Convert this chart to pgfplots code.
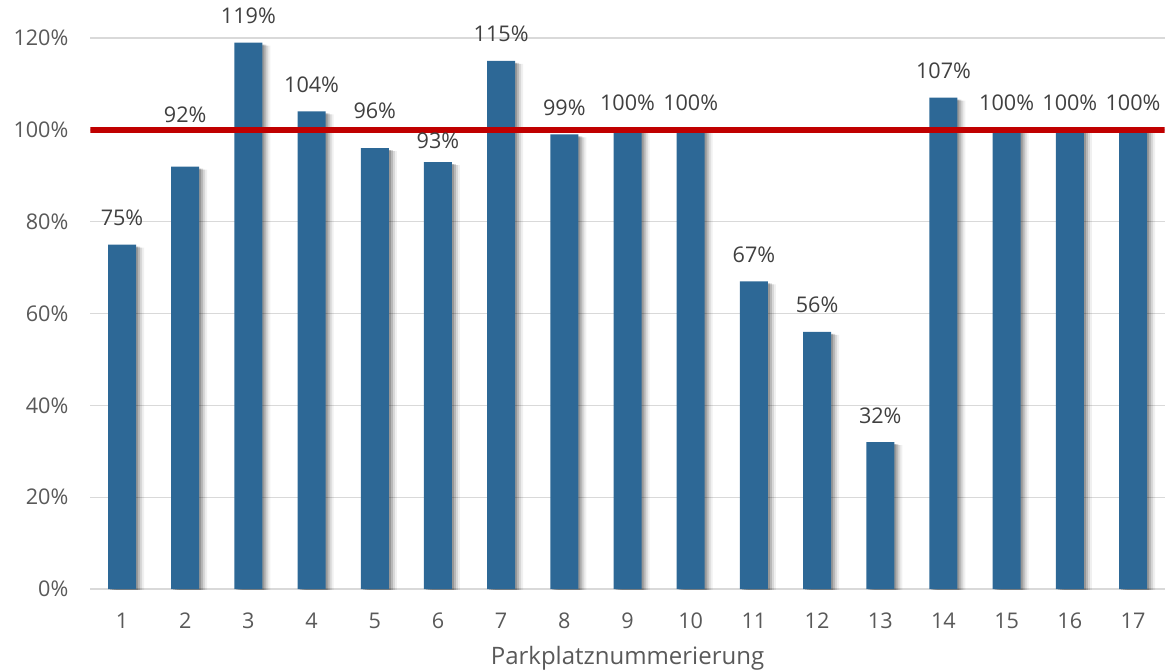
\documentclass[border=0pt]{standalone}
\usepackage{fontspec}
\setmainfont{Open Sans}
\usepackage{pgfplots}
\pgfplotsset{compat=1.18}

\definecolor{barblue}{HTML}{2D6896}
\definecolor{targetred}{HTML}{C00000}
\definecolor{gridgray}{HTML}{D9D9D9}
\definecolor{ticktext}{HTML}{595959}
\definecolor{valtext}{HTML}{404040}

% Auslastung je Parkplatz in Prozent; lift = zusaetzlicher Abstand der Beschriftung (pt)
\pgfplotstableread{
nr  val  lift
1   75   0
2   92   12.5
3   119  0
4   104  0
5   96   5.5
6   93   -2.5
7   115  0
8   99   0
9   100  0
10  100  0
11  67   0
12  56   0
13  32   0
14  107  0
15  100  0
16  100  0
17  100  0
}\auslastung

\begin{document}
\begin{tikzpicture}
\begin{axis}[
  scale only axis,
  width=537pt, height=275.5pt,
  xmin=0.5, xmax=17.5,
  ymin=0, ymax=120,
  xtick={1,...,17},
  ytick={0,20,...,120},
  yticklabel={\pgfmathprintnumber{\tick}\%},
  /pgf/number format/assume math mode=true,
  axis line style={draw=none},
  major tick length=0pt,
  ymajorgrids,
  grid style={gridgray, line width=0.75pt},
  tick label style={font=\fontsize{10.8}{12}\selectfont, text=ticktext},
  xticklabel style={yshift=-8.5pt},
  yticklabel style={xshift=-7.5pt},
  xlabel={Parkplatznummerierung},
  xlabel style={font=\fontsize{12}{14}\selectfont, text=ticktext,
    at={(axis description cs:0.5,0)}, anchor=north, yshift=-25pt},
  clip=true,
]
% weicher Schatten rechts der Balken
\addplot[ybar, bar width=14pt, bar shift=4pt, fill=black, fill opacity=0.06, draw=none, yshift=-1.5pt]
  table[x=nr, y=val] {\auslastung};
\addplot[ybar, bar width=14pt, bar shift=3pt, fill=black, fill opacity=0.10, draw=none, yshift=-1.5pt]
  table[x=nr, y=val] {\auslastung};
\addplot[ybar, bar width=14pt, bar shift=2pt, fill=black, fill opacity=0.15, draw=none, yshift=-1pt]
  table[x=nr, y=val] {\auslastung};
\addplot[ybar, bar width=14pt, bar shift=1pt, fill=black, fill opacity=0.18, draw=none, yshift=-1pt]
  table[x=nr, y=val] {\auslastung};
% Balken mit Wertbeschriftung
\addplot[ybar, bar width=14pt, bar shift=0pt, fill=barblue, draw=none,
  visualization depends on={\thisrow{lift} \as \lift},
  nodes near coords={\pgfmathprintnumber{\pgfplotspointmeta}\%},
  every node near coord/.append style={font=\fontsize{10.8}{12}\selectfont,
    text=valtext, inner sep=0pt, anchor=base, yshift=9.5pt+\lift pt}]
  table[x=nr, y=val] {\auslastung};
% Sollwert 100 %
\addplot[targetred, line width=3pt] coordinates {(0.5,100) (17.5,100)};
\end{axis}
\pgfresetboundingbox
\path ([xshift=-45.2pt,yshift=-41pt]current axis.south west)
  rectangle ([xshift=2.7pt,yshift=19pt]current axis.north east);
\end{tikzpicture}
\end{document}
